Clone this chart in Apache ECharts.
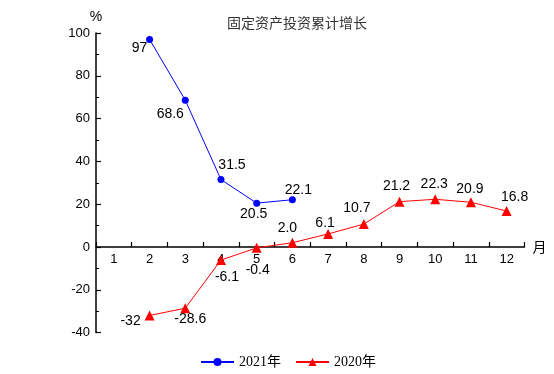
<!DOCTYPE html>
<html>
<head>
<meta charset="utf-8">
<script src="https://cdn.jsdelivr.net/npm/echarts@6/dist/echarts.min.js"></script>
<style>html,body{margin:0;padding:0;background:#fff}#c{width:554px;height:374px}</style>
</head>
<body>
<div id="c"></div>
<script>
var months = ['1','2','3','4','5','6','7','8','9','10','11','12'];
var s2021 = [null, 97, 68.6, 31.5, 20.5, 22.1, null, null, null, null, null, null];
var s2020 = [null, -32, -28.6, -6.1, -0.4, 2.0, 6.1, 10.7, 21.2, 22.3, 20.9, 16.8];
var labels2021 = [null, '97', '68.6', '31.5', '20.5', '22.1', null, null, null, null, null, null];
var labels2020 = [null, '-32', '-28.6', '-6.1', '-0.4', '2.0', '6.1', '10.7', '21.2', '22.3', '20.9', '16.8'];
var yTicks = [-40, -20, 0, 20, 40, 60, 80, 100];

// label offsets (style only)
var off2021 = [null, [-10, 9], [-15, 14], [11, -14], [-3, 11], [6, -10]];
var off2020 = [null, [-19, 6], [5, 11], [6, 17], [1, 22], [-5, -15], [-3, -11], [-7, -16], [-3, -15], [-1, -15], [-1, -13], [8, -14]];

function build(vals, labs, offs) {
  return vals.map(function (v, i) {
    if (v === null) return '-';
    return {
      value: v,
      label: {
        show: true, position: 'inside', offset: offs[i],
        formatter: labs[i], color: '#000', fontSize: 14,
        fontFamily: 'Liberation Sans, Arial, sans-serif'
      }
    };
  });
}

var gridTop = 33, gridBottom = 41.4, H = 374;
var plotH = H - gridTop - gridBottom;
var zeroFromBottom = plotH * (0 - yTicks[0]) / (yTicks[yTicks.length - 1] - yTicks[0]);

var chart = echarts.init(document.getElementById('c'));
chart.setOption({
  animation: false,
  title: {
    text: '固定资产投资累计增长', left: 222, top: 11,
    textStyle: { fontSize: 14, fontWeight: 'normal', color: '#333', fontFamily: 'Noto Sans CJK SC' }
  },
  legend: {
    left: 200, top: 355, padding: 0, itemWidth: 33, itemHeight: 10, itemGap: 14,
    textStyle: { fontSize: 14, color: '#000', fontFamily: 'Liberation Serif, Noto Sans CJK SC' },
    data: ['2021年', '2020年']
  },
  grid: { left: 96, right: 29.5, top: gridTop, bottom: gridBottom, containLabel: false },
  xAxis: {
    type: 'category', data: months, boundaryGap: true, position: 'bottom',
    offset: -zeroFromBottom,
    name: '月', nameLocation: 'end', nameGap: 8,
    nameTextStyle: { fontSize: 14, color: '#000', fontFamily: 'Noto Sans CJK SC', verticalAlign: 'middle' },
    axisLine: { onZero: false, lineStyle: { color: '#000', width: 1.5 } },
    axisTick: { show: true, inside: true, length: 5, alignWithLabel: false, lineStyle: { color: '#000', width: 1.2 } },
    axisLabel: { color: '#000', fontSize: 13, margin: 6, fontFamily: 'Liberation Sans, Arial, sans-serif', interval: 0 },
    splitLine: { show: false }
  },
  yAxis: {
    type: 'value', min: yTicks[0], max: yTicks[yTicks.length - 1], interval: 20,
    name: '%', nameLocation: 'end', nameGap: 9,
    nameTextStyle: { fontSize: 14, color: '#000', fontFamily: 'Liberation Sans, Arial, sans-serif', align: 'center' },
    axisLine: { show: true, onZero: false, lineStyle: { color: '#000', width: 1.5 } },
    axisTick: { show: true, inside: true, length: 5, lineStyle: { color: '#000', width: 1.2 } },
    minorTick: { show: true, splitNumber: 2, length: 3, lineStyle: { color: '#000', width: 1 } },
    axisLabel: { color: '#000', fontSize: 13, margin: 6, fontFamily: 'Liberation Sans, Arial, sans-serif' },
    splitLine: { show: false }
  },
  series: [
    {
      name: '2021年', type: 'line', data: build(s2021, labels2021, off2021),
      symbol: 'circle', symbolSize: 7,
      lineStyle: { color: '#0000ff', width: 1 },
      itemStyle: { color: '#0000ff' }
    },
    {
      name: '2020年', type: 'line', data: build(s2020, labels2020, off2020),
      symbol: 'triangle', symbolSize: 10,
      lineStyle: { color: '#ff0000', width: 1 },
      itemStyle: { color: '#ff0000' }
    }
  ]
});
</script>
</body>
</html>
